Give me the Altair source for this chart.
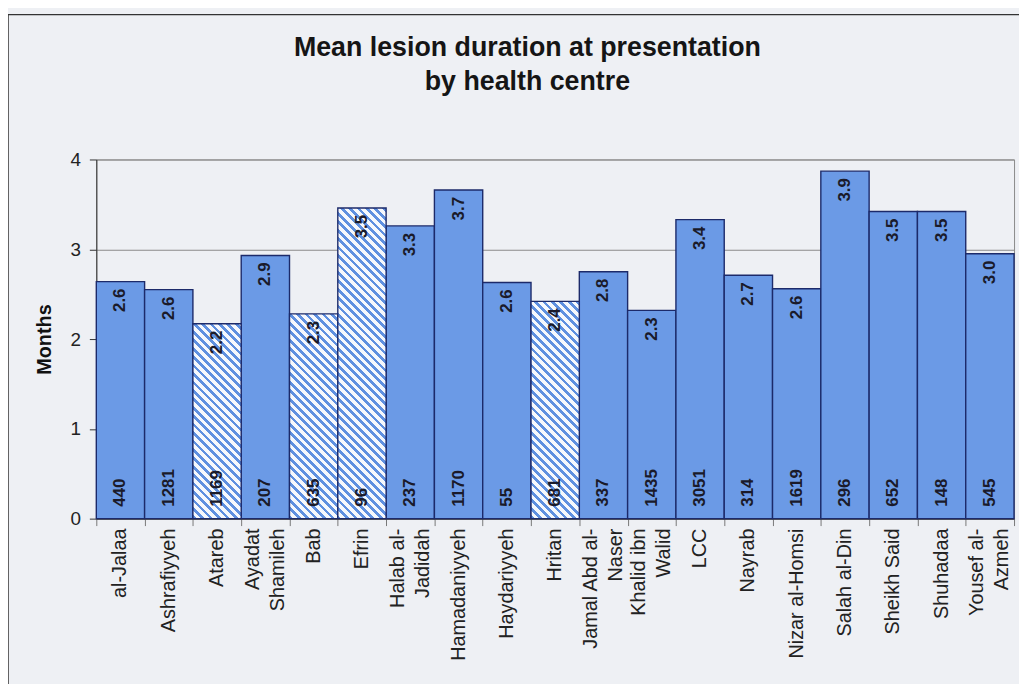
import altair as alt
import pandas as pd

centres = ["al-Jalaa", "Ashrafiyyeh", "Atareb", "Ayadat\nShamileh", "Bab", "Efrin",
           "Halab al-\nJadidah", "Hamadaniyyeh", "Haydariyyeh", "Hritan",
           "Jamal Abd al-\nNaser", "Khalid ibn\nWalid", "LCC", "Nayrab",
           "Nizar al-Homsi", "Salah al-Din", "Sheikh Said", "Shuhadaa",
           "Yousef al-\nAzmeh"]
mean_months = [2.64, 2.55, 2.17, 2.93, 2.28, 3.46, 3.26, 3.66, 2.63, 2.42,
               2.75, 2.32, 3.33, 2.71, 2.56, 3.87, 3.42, 3.42, 2.95]
mean_labels = ["2.6", "2.6", "2.2", "2.9", "2.3", "3.5", "3.3", "3.7", "2.6", "2.4",
               "2.8", "2.3", "3.4", "2.7", "2.6", "3.9", "3.5", "3.5", "3.0"]
n_patients = [440, 1281, 1169, 207, 635, 96, 237, 1170, 55, 681,
              337, 1435, 3051, 314, 1619, 296, 652, 148, 545]
hatched = [False, False, True, False, True, True, False, False, False, True,
           False, False, False, False, False, False, False, False, False]
y_ticks = [0, 1, 2, 3, 4]

df = pd.DataFrame({"centre": centres, "mean": mean_months, "mean_label": mean_labels,
                   "n": n_patients, "hatched": hatched})

W, H = 925, 362
YMAX = 4
BAND = W / len(centres)

FONT = "Liberation Sans"
BLUE = "#6b9ae6"
EDGE = "#1c2a6a"
STRIPE = "#5f90e0"
PALE = "#f6f8fc"
BG = "#eef0f4"


def hatch_gradient(value, period=8.5, frac=0.45):
    w = BAND
    h = value * H / YMAX
    s = (w + h) / (w * w + h * h)
    n = (w + h) / period
    stops = []
    k = 0
    while k / n < 1:
        a, b, c = k / n, min((k + frac) / n, 1), min((k + 1) / n, 1)
        stops += [{"offset": a, "color": STRIPE}, {"offset": b, "color": STRIPE},
                  {"offset": b, "color": PALE}, {"offset": c, "color": PALE}]
        k += 1
    return {"gradient": "linear", "x1": 0, "y1": 1, "x2": s * w, "y2": 1 - s * h,
            "stops": stops}


base = alt.Chart(df).encode(
    x=alt.X("centre:N", sort=centres,
            scale=alt.Scale(paddingInner=0, paddingOuter=0),
            axis=alt.Axis(title=None, labels=False, tickBand="extent")),
    y=alt.Y("mean:Q", scale=alt.Scale(domain=[0, YMAX], nice=False),
            axis=alt.Axis(title="Months", values=y_ticks, format="d", grid=True)),
)

solid = base.transform_filter("!datum.hatched").mark_bar(
    fill=BLUE, stroke=EDGE, strokeWidth=1.4)

hatch_layers = []
for name, val, hat in zip(centres, mean_months, hatched):
    if hat:
        hatch_layers.append(
            base.transform_filter(alt.datum.centre == name).mark_bar(
                fill=hatch_gradient(val), stroke=EDGE, strokeWidth=1.4))

mean_text = base.mark_text(angle=270, align="right", baseline="middle", yOffset=7,
                           font=FONT, fontSize=17, fontWeight="bold",
                           color="#1a1a2a").encode(text="mean_label:N")
count_text = base.mark_text(angle=270, align="left", baseline="middle", yOffset=-12,
                            font=FONT, fontSize=17, fontWeight="bold",
                            color="#1a1a2a").encode(y=alt.datum(0), text="n:Q")

# category names under the axis; two-line names are shifted half a line so the
# block stays centred on its bar
label_style = dict(angle=270, align="right", baseline="middle", yOffset=10,
                   font=FONT, fontSize=20, color="#222222", lineBreak="\n",
                   lineHeight=25)
names_one = base.transform_filter("indexof(datum.centre, '\\n') < 0").mark_text(
    **label_style).encode(y=alt.datum(0), text="centre:N")
names_two = base.transform_filter("indexof(datum.centre, '\\n') >= 0").mark_text(
    xOffset=-12.5, **label_style).encode(y=alt.datum(0), text="centre:N")

frame_src = alt.Chart(pd.DataFrame({"k": [0]}))
frame_left = frame_src.mark_rule(color="#333333", strokeWidth=1.5).encode(
    x=alt.value(-89), y=alt.value(-146), y2=alt.value(H + 170))
frame_top = frame_src.mark_rule(color="#333333", strokeWidth=1.5).encode(
    x=alt.value(-89), x2=alt.value(W + 10), y=alt.value(-146))

chart = alt.layer(solid, *hatch_layers, mean_text, count_text, names_one, names_two,
                  frame_left, frame_top).properties(
    width=W, height=H,
    autosize=alt.AutoSizeParams(type="none"),
    padding={"left": 89, "top": 150, "right": 5, "bottom": 164},
    background=BG,
    title=alt.Title(["Mean lesion duration at presentation", "by health centre"],
                    font=FONT, fontSize=27, fontWeight="bold", color="#151515",
                    anchor="middle", dx=-28, offset=0, dy=83, lineHeight=35),
).configure_view(stroke="#8a8a8a", strokeWidth=1
).configure_axisY(
    domainColor="#333333", tickColor="#333333", tickSize=7,
    labelFont=FONT, labelFontSize=19, labelColor="#222222", labelPadding=9,
    titleFont=FONT, titleFontSize=20, titleFontWeight="bold", titleColor="#111111",
    titlePadding=16, gridColor="#8a8a8a", gridWidth=1,
).configure_axisX(
    domainColor="#333333", tickColor="#777777", tickSize=7,
)

chart.save("out.html", embed_options={"renderer": "svg", "actions": False})
